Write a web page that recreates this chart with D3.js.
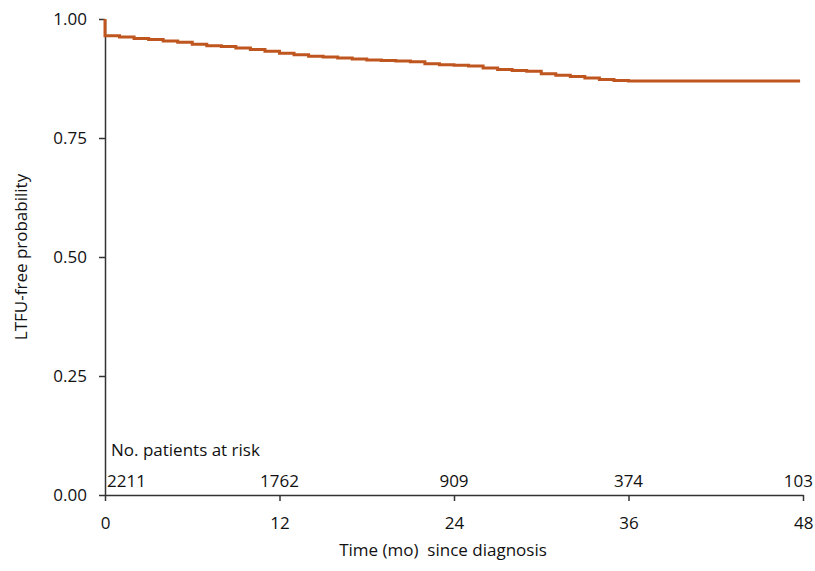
<!DOCTYPE html>
<html><head><meta charset="utf-8">
<script src="https://cdn.jsdelivr.net/npm/d3@7"></script>
<style>body{margin:0;background:#fff}svg{display:block}text{font-family:"Open Sans",sans-serif;fill:#111;white-space:pre}</style>
</head><body><svg id="c" width="815" height="571"></svg>
<script>
const times = [0, 0, 1, 2, 3, 4, 5, 6, 7, 8, 9, 10, 11, 12, 13, 14, 15, 16, 17, 18, 19, 20, 21, 22, 23, 24, 25, 26, 27, 28, 29, 30, 31, 32, 33, 34, 35, 36, 47.8];
const surv  = [1.0, 0.965, 0.962, 0.959, 0.957, 0.954, 0.951, 0.947, 0.944, 0.942, 0.939, 0.936, 0.932, 0.928, 0.925, 0.922, 0.920, 0.918, 0.916, 0.914, 0.913, 0.912, 0.910, 0.906, 0.904, 0.903, 0.901, 0.897, 0.894, 0.892, 0.890, 0.885, 0.882, 0.879, 0.876, 0.873, 0.871, 0.870, 0.870];
const xTicks = [0, 12, 24, 36, 48];
const yTicks = [0, 0.25, 0.5, 0.75, 1.0];
const atRisk = [2211, 1762, 909, 374, 103];

const FS = "17px";
const svg = d3.select("#c");
const x = d3.scaleLinear().domain([0, 48]).range([105, 803]);
const y = d3.scaleLinear().domain([0, 1]).range([495, 19]);

const ax = svg.append("g").attr("transform", "translate(0,495)")
  .call(d3.axisBottom(x).tickValues(xTicks).tickSize(6).tickSizeOuter(0).tickFormat(d3.format("d")));
ax.selectAll("text").attr("y", 0).attr("dy", "2.0em").style("font-size", FS);
ax.selectAll(".tick").filter(d => d === 48).select("text").attr("text-anchor", "end").attr("x", 10);
const ay = svg.append("g").attr("transform", "translate(105,0)")
  .call(d3.axisLeft(y).tickValues(yTicks).tickSize(6).tickSizeOuter(0).tickFormat(d3.format(".2f")));
ay.selectAll("text").attr("x", -18).style("font-size", FS);
svg.selectAll(".domain, .tick line").attr("stroke", "#333").attr("stroke-width", 1.5);

const data = times.map((t, i) => [t, surv[i]]);
svg.append("path").datum(data)
  .attr("fill", "none").attr("stroke", "#C0561F").attr("stroke-width", 3)
  .attr("d", d3.line().x(d => x(d[0])).y(d => y(d[1])).curve(d3.curveStepAfter));

svg.append("text").attr("x", 111).attr("y", 456).style("font-size", FS).text("No. patients at risk");
atRisk.forEach((v, i) => {
  const anchor = i === 0 ? "start" : (i === atRisk.length - 1 ? "end" : "middle");
  const dx = i === 0 ? 2 : (i === atRisk.length - 1 ? 10 : 0);
  svg.append("text").attr("x", x(xTicks[i]) + dx).attr("y", 487)
    .attr("text-anchor", anchor).style("font-size", FS).text(v);
});

svg.append("text").attr("x", 443).attr("y", 556).attr("text-anchor", "middle")
  .style("font-size", FS).text("Time (mo)  since diagnosis");
svg.append("text").attr("transform", "translate(27,257) rotate(-90)").attr("text-anchor", "middle")
  .style("font-size", FS).text("LTFU-free probability");
</script></body></html>
